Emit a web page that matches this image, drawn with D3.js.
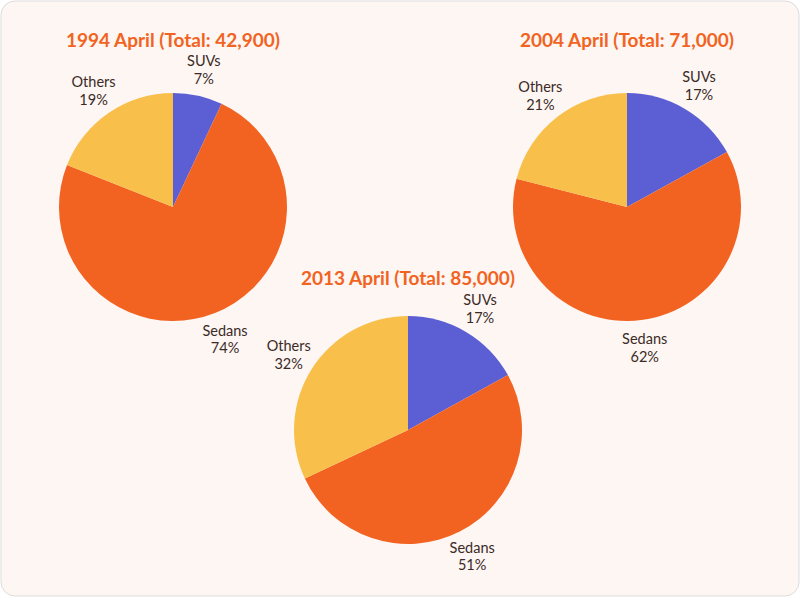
<!DOCTYPE html>
<html><head><meta charset="utf-8">
<script src="https://cdn.jsdelivr.net/npm/d3@7"></script>
<style>
body{margin:0;background:#fff;}
</style></head>
<body><svg id="c" width="800" height="597"></svg>
<script>
var categories = ["SUVs", "Sedans", "Others"];
var years = ["1994 April (Total: 42,900)", "2004 April (Total: 71,000)", "2013 April (Total: 85,000)"];
var share1994 = [7, 74, 19];
var share2004 = [17, 62, 21];
var share2013 = [17, 51, 32];
var colors = ["#5b5fd3", "#f26322", "#f9bf4b"];

var svg = d3.select("#c");
svg.append("rect").attr("x",1).attr("y",1).attr("width",798).attr("height",595)
	.attr("rx",14).attr("fill","#fdf6f3").attr("stroke","#ddd");

var r = 114;
var pies = [
	{title: years[0], data: share1994, cx: 173, cy: 207, ty: 47},
	{title: years[1], data: share2004, cx: 627, cy: 207, ty: 47},
	{title: years[2], data: share2013, cx: 408, cy: 430, ty: 285}
];
var pie = d3.pie().sort(null);
var arc = d3.arc().innerRadius(0).outerRadius(r);
var color = d3.scaleOrdinal().domain(categories).range(colors);

pies.forEach(function(p){
	var g = svg.append("g").attr("transform","translate("+p.cx+","+p.cy+")");
	g.selectAll("path").data(pie(p.data)).enter().append("path")
		.attr("d", arc)
		.attr("fill", function(d,i){ return color(categories[i]); });
	svg.append("text").attr("x",p.cx).attr("y",p.ty)
		.attr("text-anchor","middle")
		.attr("font-family","Lato, sans-serif").attr("font-weight","bold")
		.attr("font-size",19).attr("fill","#f26322")
		.text(p.title);
	var lbl = d3.arc().innerRadius(r*1.24).outerRadius(r*1.24);
	var t = g.selectAll("text.lbl").data(pie(p.data)).enter().append("text")
		.attr("class","lbl")
		.attr("transform", function(d){ var c = lbl.centroid(d); return "translate("+c[0]+","+c[1]+")"; })
		.attr("text-anchor","middle")
		.attr("font-family","Lato, sans-serif").attr("font-size",14.5).attr("fill","#3b2a26");
	t.append("tspan").attr("x",0).attr("dy","-0.2em").text(function(d,i){ return categories[i]; });
	t.append("tspan").attr("x",0).attr("dy","1.2em").text(function(d){ return d.data+"%"; });
});
</script></body></html>
